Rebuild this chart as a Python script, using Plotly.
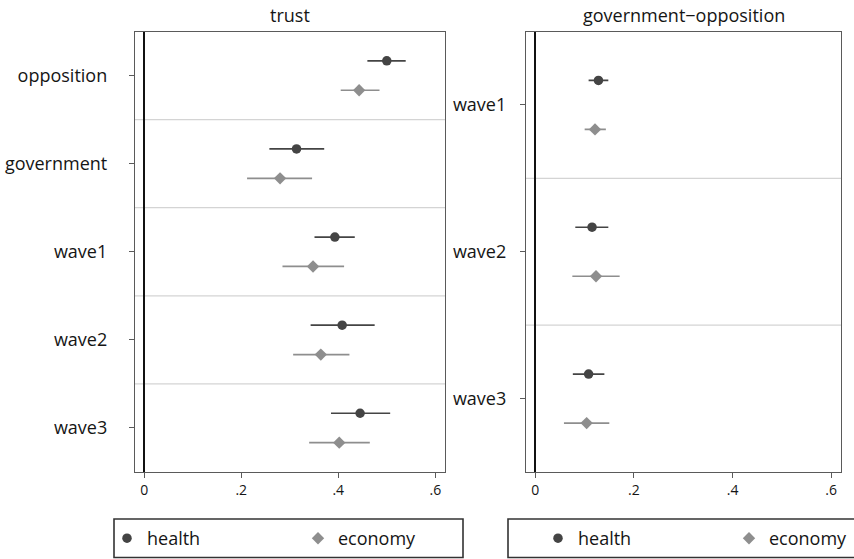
import plotly.graph_objects as go

# ---------------- data ----------------
trust_cats = ["opposition", "government", "wave1", "wave2", "wave3"]
trust_health = [0.500, 0.314, 0.393, 0.408, 0.445]
trust_health_lo = [0.460, 0.258, 0.351, 0.343, 0.385]
trust_health_hi = [0.539, 0.371, 0.434, 0.475, 0.507]
trust_econ = [0.443, 0.280, 0.348, 0.364, 0.402]
trust_econ_lo = [0.405, 0.212, 0.285, 0.307, 0.340]
trust_econ_hi = [0.485, 0.346, 0.412, 0.423, 0.465]

gov_cats = ["wave1", "wave2", "wave3"]
gov_health = [0.128, 0.115, 0.108]
gov_health_lo = [0.108, 0.081, 0.076]
gov_health_hi = [0.148, 0.148, 0.140]
gov_econ = [0.121, 0.123, 0.104]
gov_econ_lo = [0.100, 0.075, 0.058]
gov_econ_hi = [0.143, 0.171, 0.150]

x_tickvals = [0, 0.2, 0.4, 0.6]
x_ticktext = ["0", ".2", ".4", ".6"]
panel_titles = ["trust", "government\u2212opposition"]
series_names = ["health", "economy"]

# ---------------- style ----------------
FONT = "Open Sans"
TXT = "#151515"
C_HEALTH = "#444444"
C_ECON = "#8e8e8e"
C_FRAME = "#5a5a5a"
C_SEP = "#d4d4d4"
OFF = 0.167

fig = go.Figure()


def add_panel(cats, h, hlo, hhi, e, elo, ehi, xa, ya, legend):
    pos = list(range(len(cats)))
    fig.add_trace(go.Scatter(
        x=h, y=[p - OFF for p in pos], mode="markers", name=series_names[0],
        xaxis=xa, yaxis=ya, legend=legend,
        marker=dict(symbol="circle", size=9.5, color=C_HEALTH),
        error_x=dict(type="data", symmetric=False,
                     array=[b - a for a, b in zip(h, hhi)],
                     arrayminus=[a - b for a, b in zip(h, hlo)],
                     width=0, thickness=1.7, color=C_HEALTH),
    ))
    fig.add_trace(go.Scatter(
        x=e, y=[p + OFF for p in pos], mode="markers", name=series_names[1],
        xaxis=xa, yaxis=ya, legend=legend,
        marker=dict(symbol="diamond", size=9.5, color=C_ECON),
        error_x=dict(type="data", symmetric=False,
                     array=[b - a for a, b in zip(e, ehi)],
                     arrayminus=[a - b for a, b in zip(e, elo)],
                     width=0, thickness=1.7, color=C_ECON),
    ))
    # separators between category bands
    for i in range(1, len(cats)):
        fig.add_shape(type="line", xref=f"{xa} domain", yref=ya,
                      x0=0, x1=1, y0=i - 0.5, y1=i - 0.5,
                      line=dict(color=C_SEP, width=1.2), layer="below")


add_panel(trust_cats, trust_health, trust_health_lo, trust_health_hi,
          trust_econ, trust_econ_lo, trust_econ_hi, "x", "y", "legend")
add_panel(gov_cats, gov_health, gov_health_lo, gov_health_hi,
          gov_econ, gov_econ_lo, gov_econ_hi, "x2", "y2", "legend2")

W, H = 854, 559
xdom1 = [135 / W, 445 / W]
xdom2 = [526 / W, 841 / W]
ydom = [(H - 472) / H, (H - 31.5) / H]

xcommon = dict(range=[-0.019, 0.62], tickvals=x_tickvals, ticktext=x_ticktext,
               showgrid=False, zeroline=True, zerolinecolor="#111", zerolinewidth=1.6,
               showline=True, mirror=True, linecolor=C_FRAME, linewidth=1.3,
               ticks="outside", ticklen=5, tickcolor=C_FRAME,
               tickfont=dict(family=FONT, size=14, color=TXT), fixedrange=True)
ycommon = dict(showgrid=False, zeroline=False, showline=True, mirror=True,
               linecolor=C_FRAME, linewidth=1.3, ticks="outside", ticklen=5,
               tickcolor=C_FRAME, tickfont=dict(family=FONT, size=18, color=TXT),
               fixedrange=True)

fig.update_layout(
    width=W, height=H,
    margin=dict(l=0, r=0, t=0, b=0, autoexpand=False),
    paper_bgcolor="white", plot_bgcolor="white",
    font=dict(family=FONT, color=TXT),
    xaxis=dict(domain=xdom1, anchor="y", **xcommon),
    xaxis2=dict(domain=xdom2, anchor="y2", **xcommon),
    yaxis=dict(domain=ydom, anchor="x", range=[len(trust_cats) - 0.5, -0.5],
               tickvals=list(range(len(trust_cats))), ticktext=trust_cats,
               ticklabelstandoff=18, **ycommon),
    yaxis2=dict(domain=ydom, anchor="x2", range=[len(gov_cats) - 0.5, -0.5],
                tickvals=list(range(len(gov_cats))), ticktext=gov_cats,
                ticklabelstandoff=10, **ycommon),
    legend=dict(orientation="h", x=107 / W, xanchor="left", y=(H - 538.5) / H,
                yanchor="middle", entrywidth=146, bgcolor="rgba(0,0,0,0)",
                font=dict(family=FONT, size=18, color=TXT), borderwidth=0),
    legend2=dict(orientation="h", x=538 / W, xanchor="left", y=(H - 538.5) / H,
                 yanchor="middle", entrywidth=146, bgcolor="rgba(0,0,0,0)",
                 font=dict(family=FONT, size=18, color=TXT), borderwidth=0),
    showlegend=True,
)

# panel titles
for title, dom in zip(panel_titles, [xdom1, xdom2]):
    fig.add_annotation(text=title, xref="paper", yref="paper",
                       x=(dom[0] + dom[1]) / 2, y=(H - 15) / H,
                       xanchor="center", yanchor="middle",
                       showarrow=False, font=dict(family=FONT, size=18, color=TXT))

# legend frames
fig.add_shape(type="rect", xref="paper", yref="paper",
              x0=114 / W, x1=463 / W, y0=1.5 / H, y1=(H - 519) / H,
              line=dict(color="#333", width=1.6))
fig.add_shape(type="rect", xref="paper", yref="paper",
              x0=508 / W, x1=1.05, y0=1.5 / H, y1=(H - 519) / H,
              line=dict(color="#333", width=1.6))

fig.write_html("out.html", config={"displayModeBar": False},
               post_script="document.body.style.margin='0';document.body.style.overflow='hidden';")
